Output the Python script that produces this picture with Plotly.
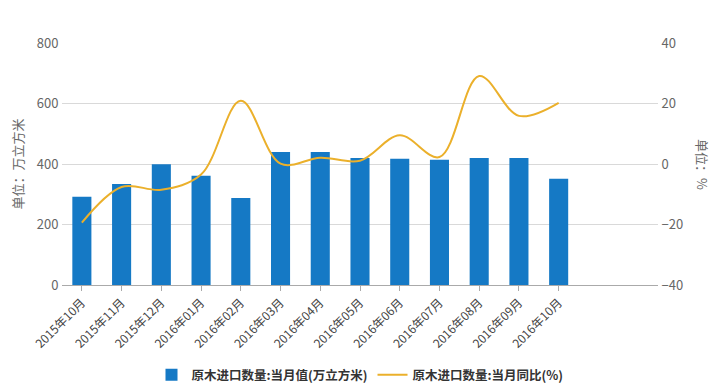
import plotly.graph_objects as go

months = ["2015年10月", "2015年11月", "2015年12月", "2016年01月", "2016年02月", "2016年03月",
          "2016年04月", "2016年05月", "2016年06月", "2016年07月", "2016年08月", "2016年09月", "2016年10月"]
volume = [292, 334, 399, 361, 288, 440, 440, 420, 417, 414, 420, 420, 351]
yoy = [-19.4, -7.6, -8.5, -3.5, 20.9, 0.1, 2.1, 1.1, 9.5, 2.3, 29.1, 15.9, 20.2]
left_ticks = [0, 200, 400, 600, 800]
right_ticks = [-40, -20, 0, 20, 40]

BAR = "#1579C5"
LINE = "#EBB02B"
FONT = "Noto Sans CJK SC"

fig = go.Figure()
fig.add_trace(go.Bar(
    x=months, y=volume, name="<b>原木进口数量:当月值(万立方米)</b>",
    marker=dict(color=BAR, line=dict(width=0)), width=0.48, yaxis="y",
))
fig.add_trace(go.Scatter(
    x=months, y=yoy, name="<b>原木进口数量:当月同比(%)</b>", mode="lines",
    line=dict(color=LINE, width=2, shape="spline", smoothing=1.0), yaxis="y2",
))

fig.update_layout(
    width=715, height=376,
    margin=dict(l=54, r=65, t=35, b=99, autoexpand=False),
    paper_bgcolor="white", plot_bgcolor="white",
    font=dict(family=FONT, color="#666666", size=13),
    showlegend=True,
    legend=dict(orientation="h", x=0.5, xanchor="center", y=-0.31, yanchor="top",
                font=dict(family=FONT, size=12.5, color="#333333"), itemwidth=30,
                traceorder="normal"),
    bargap=0.5,
    xaxis=dict(
        type="category", categoryorder="array", categoryarray=months, automargin=False,
        range=[-0.5, 14.5], tickangle=-45, tickfont=dict(size=12, color="#444444", family=FONT),
        showline=True, linecolor="#aaaaaa", linewidth=1, ticks="outside", ticklen=5,
        tickcolor="#aaaaaa", showgrid=False, zeroline=False,
    ),
    yaxis=dict(
        range=[0, 800], tickvals=left_ticks, showgrid=True, gridcolor="#d9d9d9", gridwidth=1,
        zeroline=False, ticks="outside", ticklen=0, tickfont=dict(size=13, color="#666666"),
        automargin=False,
        title=dict(text="单位：万立方米", font=dict(size=13, color="#666666"), standoff=12),
    ),
    yaxis2=dict(
        range=[-40, 40], tickvals=right_ticks, overlaying="y", side="right", automargin=False,
        showgrid=False, zeroline=False, tickfont=dict(size=13, color="#666666"),
        ticks="outside", ticklen=0,
    ),
    annotations=[dict(
        text="单位：%", textangle=90, xref="paper", yref="paper", x=1.0, y=0.5,
        xshift=45, showarrow=False, xanchor="center", yanchor="middle",
        font=dict(size=13, color="#666666", family=FONT),
    )],
)

fig.write_html("out.html")
